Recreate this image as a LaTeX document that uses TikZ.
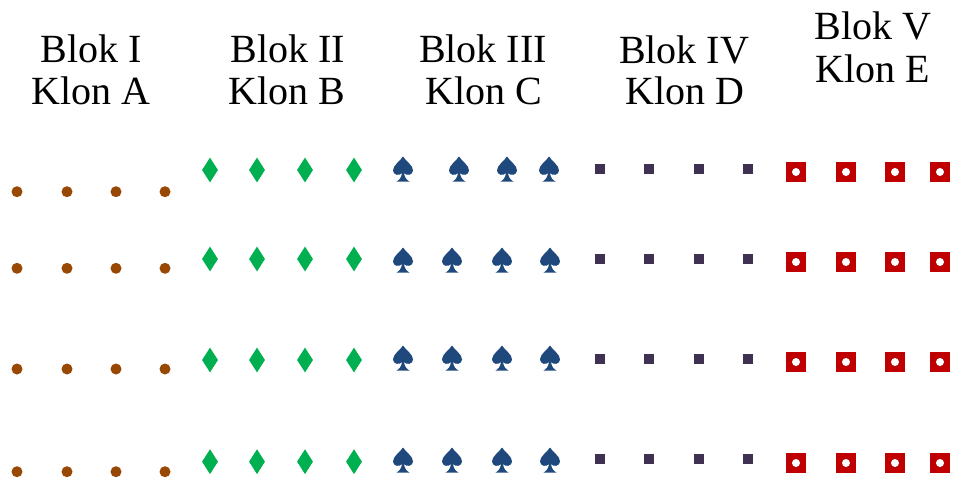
\documentclass[tikz,border=0pt]{standalone}
\usepackage{fontspec}
\setmainfont{Liberation Serif}
\usetikzlibrary{shapes.geometric}
\definecolor{dotcol}{RGB}{153,72,4}
\definecolor{diacol}{RGB}{0,176,80}
\definecolor{spadecol}{RGB}{31,73,125}
\definecolor{sqcol}{RGB}{63,49,81}
\definecolor{redcol}{RGB}{192,0,0}
\tikzset{
  hdr/.style={anchor=base, inner sep=0pt, font=\fontsize{40}{40}\selectfont},
  dotm/.style={circle, fill=dotcol, minimum size=11pt, inner sep=0pt},
  diam/.style={diamond, fill=diacol, minimum width=16pt, minimum height=25pt, inner sep=0pt},
  sqm/.style={rectangle, fill=sqcol, minimum size=9.5pt, inner sep=0pt},
  redm/.style={rectangle, fill=redcol, minimum size=20pt, inner sep=0pt,
    path picture={\fill[white] (path picture bounding box.center) circle[radius=4pt];}},
  spadem/.style={rectangle, minimum width=21pt, minimum height=26pt, inner sep=0pt,
    path picture={
      \begin{scope}[shift={(path picture bounding box.center)}, x=10pt, y=10pt]
        \fill[spadecol] (0,1.25) .. controls (-0.3,0.75) and (-1,0.4) .. (-1,-0.15)
          .. controls (-1,-0.6) and (-0.35,-0.75) .. (-0.1,-0.4)
          .. controls (-0.15,-0.85) and (-0.4,-1.15) .. (-0.65,-1.25)
          -- (0.65,-1.25)
          .. controls (0.4,-1.15) and (0.15,-0.85) .. (0.1,-0.4)
          .. controls (0.35,-0.75) and (1,-0.6) .. (1,-0.15)
          .. controls (1,0.4) and (0.3,0.75) .. (0,1.25) -- cycle;
      \end{scope}}}
}
\begin{document}
\begin{tikzpicture}[x=1pt, y=-1pt]
\useasboundingbox (0,0) rectangle (955,477);
% headers
\node[hdr] (h1a) at (91,62) {Blok I};
\node[hdr] (h1b) at (91,104) {Klon A};
\node[hdr] (h2a) at (288,62) {Blok II};
\node[hdr] (h2b) at (287,104) {Klon B};
\node[hdr] (h3a) at (483,62) {Blok III};
\node[hdr] (h3b) at (484,104) {Klon C};
\node[hdr] (h4a) at (684,63) {Blok IV};
\node[hdr] (h4b) at (685,104) {Klon D};
\node[hdr] (h5a) at (873,39) {Blok V};
\node[hdr] (h5b) at (873,82) {Klon E};
% markers
\foreach \r/\yd/\yg/\yq/\yr in {1/191.7/170/169/172, 2/268.3/259/259/262, 3/369/360/359/362, 4/471.7/461.7/459/463}{
  \foreach \c/\xd/\xg/\xq/\xr in {1/17/210/600/796, 2/67/257/649/846, 3/116/305/699/895, 4/165/354/748/940}{
    \node[dotm] (a\r\c) at (\xd,\yd) {};
    \node[diam] (b\r\c) at (\xg,\yg) {};
    \node[sqm] (d\r\c) at (\xq,\yq) {};
    \node[redm] (e\r\c) at (\xr,\yr) {};
  }
}
\foreach \c/\xs in {1/403, 2/459, 3/507, 4/549}{
  \node[spadem] (c1\c) at (\xs,169) {};
}
\foreach \r/\ys in {2/260, 3/358, 4/460}{
  \foreach \c/\xs in {1/403, 2/452, 3/502, 4/550}{
    \node[spadem] (c\r\c) at (\xs,\ys) {};
  }
}
\end{tikzpicture}
\end{document}
